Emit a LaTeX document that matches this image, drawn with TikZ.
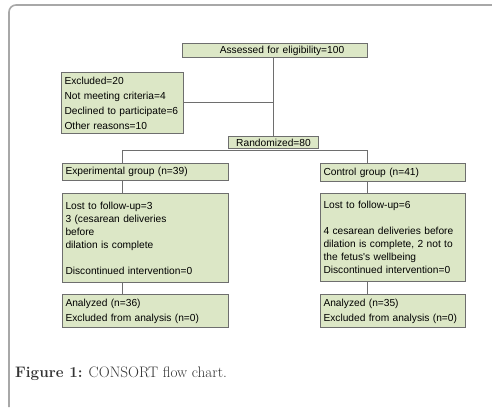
\documentclass[tikz,border=0pt]{standalone}
\usepackage{fontspec}
\setmainfont{Latin Modern Roman}
\newfontfamily\boxfont{Liberation Sans}
\usetikzlibrary{calc}
\definecolor{boxfill}{HTML}{DCE7C6}
\definecolor{boxline}{HTML}{6E6E6E}
\definecolor{framegray}{HTML}{A8A8A8}

\begin{document}
\begin{tikzpicture}[
    x=1pt, y=-1pt,
    box/.style={
        draw=boxline, fill=boxfill, line width=1pt, anchor=north west,
        inner sep=3pt, align=left, font=\boxfont\fontsize{10.2}{13}\selectfont
    },
    link/.style={draw=boxline, line width=1pt},
    ]
    \useasboundingbox (0,0) rectangle (492,407);
    \draw[framegray, line width=1.6pt, rounded corners=7pt] (9,407) |- (492,5);

    \node[box, align=center, text width=179pt, minimum height=14pt, inner ysep=1pt] (assessed) at (182,43)
        {\hspace*{14pt}Assessed for eligibility=100};
    \node[box, text width=116pt, minimum height=61pt, inner ysep=1pt] (excluded) at (61,72)
        {Excluded=20\\[2pt] Not meeting criteria=4\\[2pt] Declined to participate=6\\[2pt] Other reasons=10};
    \node[box, align=center, text width=84pt, minimum height=12pt, inner ysep=0.5pt] (randomized) at (228,136)
        {Randomized=80};

    \node[box, text width=160pt, minimum height=17pt, inner ysep=1pt] (expgroup) at (62,163)
        {Experimental group (n=39)};
    \node[box, text width=160pt, minimum height=89pt] (explost) at (62,193)
        {Lost to follow-up=3\\ 3 (cesarean deliveries\\ before\\ dilation is complete\\[13pt] Discontinued intervention=0};
    \node[box, text width=160pt, minimum height=33pt, inner ysep=1pt] (expanalyzed) at (62,294)
        {Analyzed (n=36)\\[2pt] Excluded from analysis (n=0)};

    \node[box, text width=139pt, minimum height=18pt, inner ysep=1pt] (ctrlgroup) at (320,163)
        {Control group (n=41)};
    \node[box, text width=139pt, minimum height=88pt] (ctrllost) at (320,193)
        {Lost to follow-up=6\\[13pt] 4 cesarean deliveries before\\ dilation is complete, 2 not to\\ the fetus's wellbeing\\ Discontinued intervention=0};
    \node[box, text width=139pt, minimum height=33pt, inner ysep=1pt] (ctrlanalyzed) at (320,294)
        {Analyzed (n=35)\\[2pt] Excluded from analysis (n=0)};

    \coordinate (branch) at (273,102);
    \coordinate (splitL) at (122,150);
    \coordinate (splitR) at (367,150);

    \draw[link] (branch |- assessed.south) -- (branch |- randomized.north);
    \draw[link] (excluded.east |- branch) -- (branch);
    \draw[link] (splitL) -- (splitR);
    \draw[link] (splitL) -- (splitL |- expgroup.north);
    \draw[link] (splitL |- expgroup.south) -- (splitL |- explost.north);
    \draw[link] (splitL |- explost.south) -- (splitL |- expanalyzed.north);
    \draw[link] (splitR) -- (splitR |- ctrlgroup.north);
    \draw[link] (splitR |- ctrlgroup.south) -- (splitR |- ctrllost.north);
    \draw[link] (splitR |- ctrllost.south) -- (splitR |- ctrlanalyzed.north);

    \node[anchor=base west, font=\fontsize{15.2}{18}\selectfont, text=black!80, inner sep=0pt] (caption) at (15,377)
        {\textbf{Figure 1:} CONSORT flow chart.};
\end{tikzpicture}
\end{document}
